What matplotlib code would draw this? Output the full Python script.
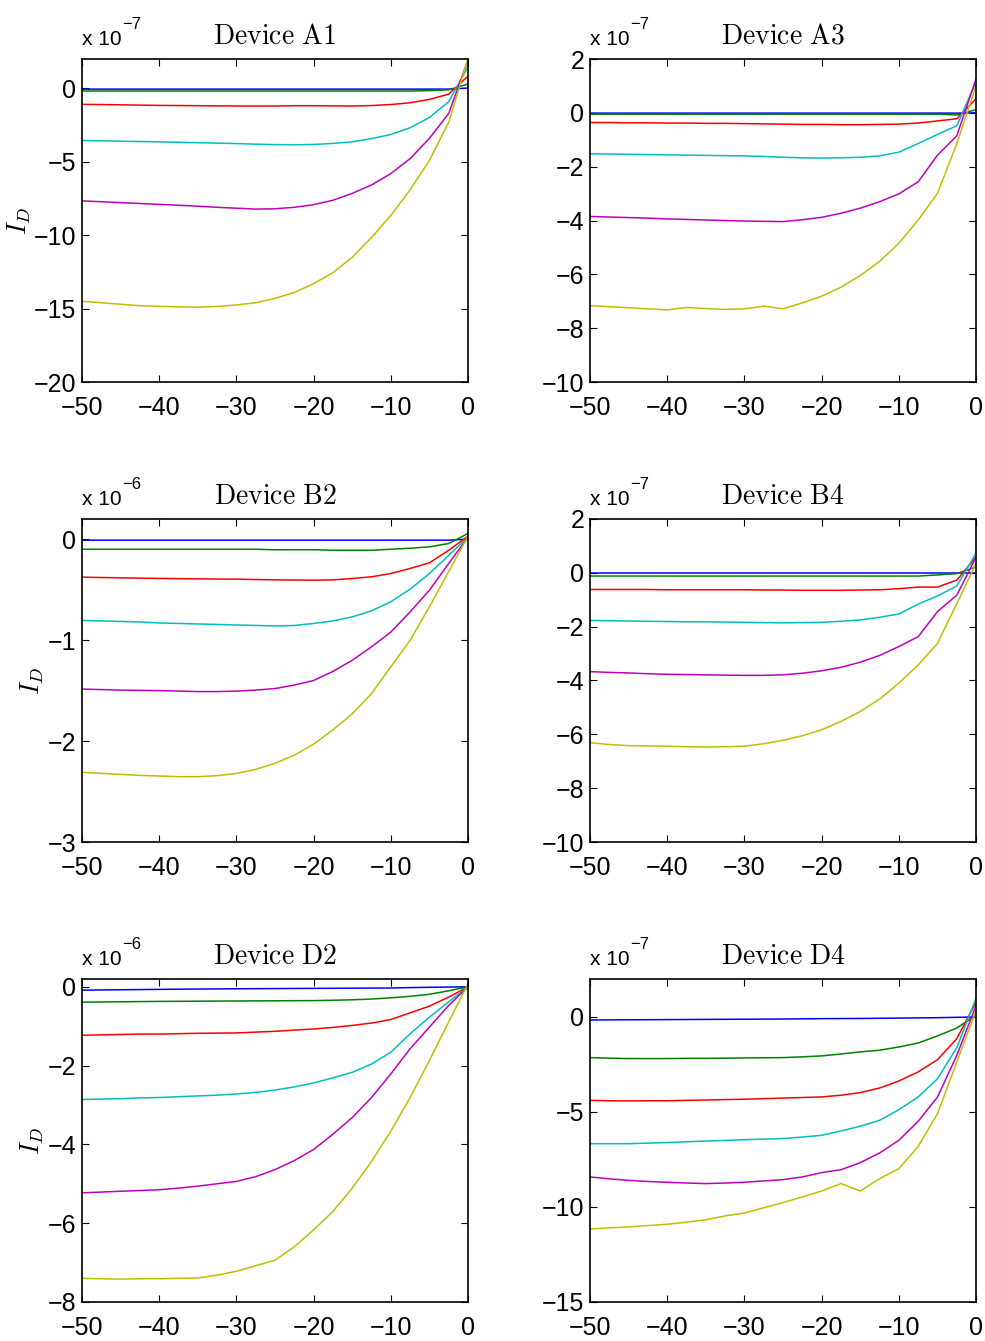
import numpy as np
import matplotlib
matplotlib.use("Agg")
from matplotlib import pyplot as plt
from matplotlib import font_manager

# gate voltage sweep (x axis)
VG = [-50, -47.5, -45, -42.5, -40, -37.5, -35, -32.5, -30, -27.5, -25,
      -22.5, -20, -17.5, -15, -12.5, -10, -7.5, -5, -2.5, 0]

# curves, in plot units (scaled by the exponent shown above each panel)
A1 = [
	[-0.05]*20 + [0.02],
	[-0.18]*18 + [-0.15, -0.1, 0.3],
	[-1.09, -1.1, -1.12, -1.14, -1.16, -1.17, -1.18, -1.19, -1.2, -1.2, -1.2, -1.18, -1.18, -1.19, -1.2, -1.17, -1.1, -0.98, -0.75, -0.39, 0.84],
	[-3.55, -3.57, -3.6, -3.62, -3.64, -3.67, -3.7, -3.73, -3.76, -3.8, -3.83, -3.84, -3.82, -3.75, -3.64, -3.42, -3.14, -2.68, -1.98, -0.9, 1.48],
	[-7.66, -7.72, -7.78, -7.84, -7.9, -7.96, -8.02, -8.1, -8.16, -8.22, -8.2, -8.1, -7.92, -7.62, -7.15, -6.58, -5.8, -4.78, -3.4, -1.7, 1.95],
	[-14.5, -14.6, -14.7, -14.8, -14.84, -14.88, -14.9, -14.85, -14.75, -14.6, -14.3, -13.9, -13.3, -12.55, -11.5, -10.15, -8.65, -6.9, -4.9, -2.3, 2.05],
]
A3 = [
	[-0.01]*20 + [0.0],
	[-0.05]*19 + [-0.08, 0.12],
	[-0.36, -0.36, -0.37, -0.37, -0.38, -0.38, -0.39, -0.39, -0.4, -0.41, -0.42, -0.43, -0.43, -0.44, -0.44, -0.43, -0.42, -0.38, -0.3, -0.22, 0.53],
	[-1.52, -1.53, -1.54, -1.55, -1.56, -1.57, -1.58, -1.59, -1.6, -1.62, -1.65, -1.67, -1.68, -1.67, -1.65, -1.6, -1.46, -1.14, -0.8, -0.48, 1.15],
	[-3.85, -3.87, -3.89, -3.91, -3.94, -3.96, -3.98, -4.0, -4.02, -4.03, -4.04, -3.97, -3.88, -3.73, -3.54, -3.3, -3.01, -2.56, -1.57, -0.85, 1.27],
	[-7.16, -7.2, -7.24, -7.28, -7.32, -7.23, -7.27, -7.3, -7.28, -7.18, -7.28, -7.06, -6.81, -6.48, -6.04, -5.52, -4.84, -3.98, -2.99, -1.14, 1.02],
]
B2 = [
	[-0.01]*20 + [0.0],
	[-0.1, -0.1, -0.1, -0.1, -0.1, -0.1, -0.1, -0.1, -0.1, -0.1, -0.105, -0.105, -0.105, -0.11, -0.11, -0.11, -0.1, -0.09, -0.076, -0.043, 0.056],
	[-0.376, -0.38, -0.383, -0.386, -0.389, -0.391, -0.393, -0.395, -0.396, -0.4, -0.403, -0.405, -0.406, -0.403, -0.39, -0.373, -0.34, -0.29, -0.234, -0.11, 0.03],
	[-0.805, -0.81, -0.815, -0.82, -0.83, -0.835, -0.84, -0.845, -0.85, -0.855, -0.86, -0.855, -0.835, -0.81, -0.77, -0.71, -0.62, -0.495, -0.34, -0.16, 0.02],
	[-1.485, -1.49, -1.495, -1.498, -1.5, -1.505, -1.51, -1.51, -1.505, -1.495, -1.48, -1.445, -1.4, -1.31, -1.2, -1.066, -0.92, -0.72, -0.505, -0.24, 0.02],
	[-2.31, -2.32, -2.33, -2.34, -2.346, -2.353, -2.353, -2.343, -2.32, -2.28, -2.22, -2.14, -2.03, -1.89, -1.73, -1.53, -1.264, -1.0, -0.67, -0.32, 0.03],
]
B4 = [
	[0.0]*21,
	[-0.12]*18 + [-0.08, -0.03, 0.22],
	[-0.62, -0.62, -0.62, -0.62, -0.63, -0.63, -0.63, -0.63, -0.63, -0.64, -0.64, -0.65, -0.65, -0.65, -0.64, -0.63, -0.59, -0.53, -0.53, -0.27, 0.59],
	[-1.77, -1.78, -1.79, -1.8, -1.81, -1.82, -1.82, -1.83, -1.84, -1.85, -1.86, -1.85, -1.84, -1.8, -1.75, -1.65, -1.53, -1.16, -0.86, -0.49, 0.74],
	[-3.67, -3.7, -3.72, -3.75, -3.77, -3.78, -3.79, -3.8, -3.81, -3.81, -3.79, -3.73, -3.64, -3.51, -3.32, -3.07, -2.74, -2.37, -1.44, -0.83, 0.59],
	[-6.31, -6.38, -6.42, -6.43, -6.44, -6.46, -6.47, -6.46, -6.44, -6.35, -6.22, -6.05, -5.83, -5.52, -5.15, -4.69, -4.1, -3.42, -2.62, -1.14, 0.35],
]
D2 = [
	[-0.085, -0.08, -0.075, -0.07, -0.065, -0.06, -0.057, -0.053, -0.05, -0.047, -0.045, -0.042, -0.04, -0.037, -0.035, -0.032, -0.03, -0.02, -0.012, -0.006, 0.0],
	[-0.39, -0.385, -0.38, -0.375, -0.37, -0.368, -0.365, -0.362, -0.36, -0.357, -0.355, -0.352, -0.35, -0.34, -0.33, -0.31, -0.28, -0.24, -0.19, -0.1, 0.0],
	[-1.23, -1.22, -1.21, -1.2, -1.2, -1.19, -1.18, -1.175, -1.17, -1.15, -1.13, -1.1, -1.07, -1.03, -0.98, -0.92, -0.83, -0.66, -0.49, -0.26, 0.0],
	[-2.86, -2.85, -2.84, -2.82, -2.81, -2.79, -2.77, -2.75, -2.72, -2.68, -2.62, -2.54, -2.44, -2.31, -2.17, -1.96, -1.66, -1.19, -0.77, -0.38, 0.0],
	[-5.23, -5.21, -5.19, -5.17, -5.15, -5.11, -5.06, -5.0, -4.94, -4.82, -4.64, -4.41, -4.13, -3.74, -3.32, -2.81, -2.21, -1.57, -1.02, -0.47, 0.0],
	[-7.4, -7.41, -7.42, -7.41, -7.41, -7.4, -7.39, -7.32, -7.22, -7.08, -6.94, -6.6, -6.17, -5.7, -5.11, -4.43, -3.66, -2.81, -1.87, -0.89, 0.08],
]
D4 = [
	[-0.16, -0.155, -0.15, -0.145, -0.14, -0.135, -0.13, -0.125, -0.12, -0.115, -0.11, -0.1, -0.09, -0.085, -0.08, -0.07, -0.06, -0.05, -0.04, -0.02, 0.0],
	[-2.14, -2.17, -2.19, -2.19, -2.19, -2.18, -2.18, -2.17, -2.16, -2.15, -2.14, -2.1, -2.05, -1.95, -1.84, -1.75, -1.58, -1.37, -1.0, -0.58, 0.09],
	[-4.39, -4.41, -4.42, -4.41, -4.41, -4.39, -4.37, -4.35, -4.33, -4.3, -4.27, -4.24, -4.21, -4.12, -3.98, -3.74, -3.37, -2.89, -2.25, -1.14, 0.79],
	[-6.67, -6.67, -6.67, -6.64, -6.61, -6.57, -6.53, -6.5, -6.46, -6.43, -6.4, -6.32, -6.23, -6.0, -5.75, -5.44, -4.88, -4.21, -3.25, -1.61, 1.0],
	[-8.42, -8.52, -8.6, -8.66, -8.7, -8.74, -8.77, -8.74, -8.7, -8.63, -8.56, -8.42, -8.19, -8.04, -7.67, -7.16, -6.49, -5.49, -4.21, -2.02, 0.61],
	[-11.16, -11.1, -11.05, -10.98, -10.91, -10.8, -10.67, -10.47, -10.32, -10.04, -9.77, -9.47, -9.16, -8.77, -9.16, -8.51, -7.98, -6.81, -5.09, -2.37, 0.35],
]

TITLES = ["Device A1", "Device A3", "Device B2", "Device B4", "Device D2", "Device D4"]
EXPONENTS = [-7, -7, -6, -7, -6, -7]
YLIMS = [(-20, 2), (-10, 2), (-3, 0.2), (-10, 2), (-8, 0.2), (-15, 2)]
YTICKS = [[-20, -15, -10, -5, 0], [-10, -8, -6, -4, -2, 0, 2], [-3, -2, -1, 0],
          [-10, -8, -6, -4, -2, 0, 2], [-8, -6, -4, -2, 0], [-15, -10, -5, 0]]
XTICKS = [-50, -40, -30, -20, -10, 0]

# matlab default line colours
COLORS = [(0, 0, 1), (0, 0.5, 0), (1, 0, 0), (0, 0.75, 0.75), (0.75, 0, 0.75), (0.75, 0.75, 0)]

names = {f.name for f in font_manager.fontManager.ttflist}
TICKFONT = "Liberation Sans Narrow" if "Liberation Sans Narrow" in names else "Liberation Sans"

plt.rcParams["mathtext.fontset"] = "cm"
plt.rcParams["font.family"] = TICKFONT

fig = plt.figure(figsize=(9.85, 13.41), dpi=100)

lefts = [0.0832, 0.599]
bottoms = [0.7151, 0.3721, 0.0291]
W, H = 0.392, 0.2409

panels = [A1, A3, B2, B4, D2, D4]
for i, curves in enumerate(panels):
	ax = fig.add_axes([lefts[i % 2], bottoms[i // 2], W, H])
	for c, y in zip(COLORS, curves):
		ax.plot(VG, y, color=c, lw=1.1)
	ax.set_xlim(-50, 0)
	ax.set_ylim(*YLIMS[i])
	ax.set_xticks(XTICKS)
	ax.set_yticks(YTICKS[i])
	ax.set_xticklabels([str(v).replace("-", "\u2212") for v in XTICKS])
	ax.set_yticklabels([str(v).replace("-", "\u2212") for v in YTICKS[i]])
	ax.tick_params(direction="in", top=True, right=True, length=5, width=0.8,
	               labelsize=18)
	ax.tick_params(axis="x", pad=10)
	ax.tick_params(axis="y", pad=4)
	for s in ax.spines.values():
		s.set_linewidth(1.2)

	ax.set_title(r"$\mathrm{%s}$" % TITLES[i].replace(" ", r"\ "), fontsize=20, pad=11)
	if i % 2 == 0:
		ax.set_ylabel(r"$I_D$", fontsize=19, labelpad=1)

	# matlab-style exponent label above the axes
	ax.text(0.0, 1.043, "x 10", transform=ax.transAxes, fontsize=15,
	        ha="left", va="baseline")
	ax.text(0.104, 1.093, "\u2212" + str(-EXPONENTS[i]), transform=ax.transAxes,
	        fontsize=12, ha="left", va="baseline")

fig.savefig("out.png", dpi=100)
